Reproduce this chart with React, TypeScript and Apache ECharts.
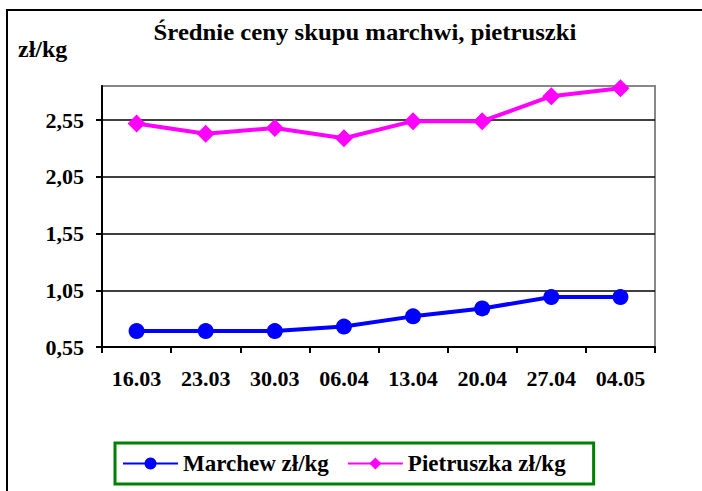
import React, { useEffect, useRef } from "react";
import * as echarts from "echarts";

const categories = ["16.03", "23.03", "30.03", "06.04", "13.04", "20.04", "27.04", "04.05"];
const marchew = [0.69, 0.69, 0.69, 0.73, 0.82, 0.89, 0.99, 0.99];
const pietruszka = [2.52, 2.43, 2.48, 2.39, 2.54, 2.54, 2.76, 2.83];
const yTicks = [0.55, 1.05, 1.55, 2.05, 2.55];
const yMin = 0.55;
const yMax = 2.85;
const titleText = "Średnie ceny skupu marchwi, pietruszki";
const unitText = "zł/kg";
const seriesNames = ["Marchew zł/kg", "Pietruszka zł/kg"];

const FONT = "'Liberation Serif', 'Times New Roman', serif";

export default function App() {
  const ref = useRef<HTMLDivElement>(null);
  useEffect(() => {
    if (!ref.current) return;
    const chart = echarts.init(ref.current, undefined, { renderer: "svg" });
    chart.setOption({
      animation: false,
      backgroundColor: "#ffffff",
      graphic: [
        {
          type: "rect",
          shape: { x: 7, y: 10, width: 720, height: 500 },
          style: { fill: "none", stroke: "#000", lineWidth: 2 },
          silent: true,
          z: 100,
        },
        {
          type: "text",
          x: 365,
          y: 32,
          scaleX: 1.03,
          style: {
            text: titleText,
            font: `bold 24px ${FONT}`,
            fill: "#000",
            textAlign: "center",
            textVerticalAlign: "middle",
          },
        },
        {
          type: "text",
          x: 18,
          y: 49,
          style: {
            text: unitText,
            font: `bold 24px ${FONT}`,
            fill: "#000",
            textAlign: "left",
            textVerticalAlign: "middle",
          },
        },
      ],
      grid: {
        left: 102,
        right: 47,
        top: 86,
        bottom: 144,
        show: true,
        borderColor: "#888",
        borderWidth: 2,
        containLabel: false,
      },
      legend: {
        left: 115,
        top: 443,
        orient: "horizontal",
        borderColor: "#008000",
        borderWidth: 3,
        padding: [9, 28, 9, 7],
        itemWidth: 55,
        itemHeight: 15,
        itemGap: 18,
        textStyle: {
          fontFamily: FONT,
          fontWeight: "bold",
          fontSize: 23,
          color: "#000",
        },
        data: seriesNames,
      },
      xAxis: {
        type: "category",
        data: categories,
        boundaryGap: true,
        axisLine: { show: true, lineStyle: { color: "#000", width: 2 } },
        axisTick: { show: true, length: 6, lineStyle: { color: "#000", width: 2 } },
        axisLabel: {
          margin: 20,
          fontFamily: FONT,
          fontWeight: "bold",
          fontSize: 22,
          color: "#000",
          interval: 0,
        },
        splitLine: { show: false },
      },
      yAxis: {
        type: "value",
        min: yMin,
        max: yMax,
        axisLine: { show: true, lineStyle: { color: "#000", width: 2 } },
        axisTick: {
          show: true,
          length: 6,
          customValues: yTicks,
          lineStyle: { color: "#000", width: 2 },
        },
        axisLabel: {
          customValues: yTicks,
          margin: 18,
          fontFamily: FONT,
          fontWeight: "bold",
          fontSize: 22,
          color: "#000",
          formatter: (v: number) => v.toFixed(2).replace(".", ","),
        },
        splitLine: { show: true, lineStyle: { color: "#000", width: 1.6 } },
      },
      series: [
        {
          name: seriesNames[0],
          type: "line",
          data: marchew,
          symbol: "circle",
          symbolSize: 16,
          lineStyle: { color: "#0000ff", width: 4 },
          itemStyle: { color: "#0000ff" },
        },
        {
          name: seriesNames[1],
          type: "line",
          data: pietruszka,
          symbol: "diamond",
          symbolSize: 18,
          lineStyle: { color: "#ff00ff", width: 4 },
          itemStyle: { color: "#ff00ff" },
        },
      ],
    });
    return () => chart.dispose();
  }, []);
  return (
    <div
      ref={ref}
      style={{ position: "fixed", left: 0, top: 0, width: 702, height: 491 }}
    />
  );
}
